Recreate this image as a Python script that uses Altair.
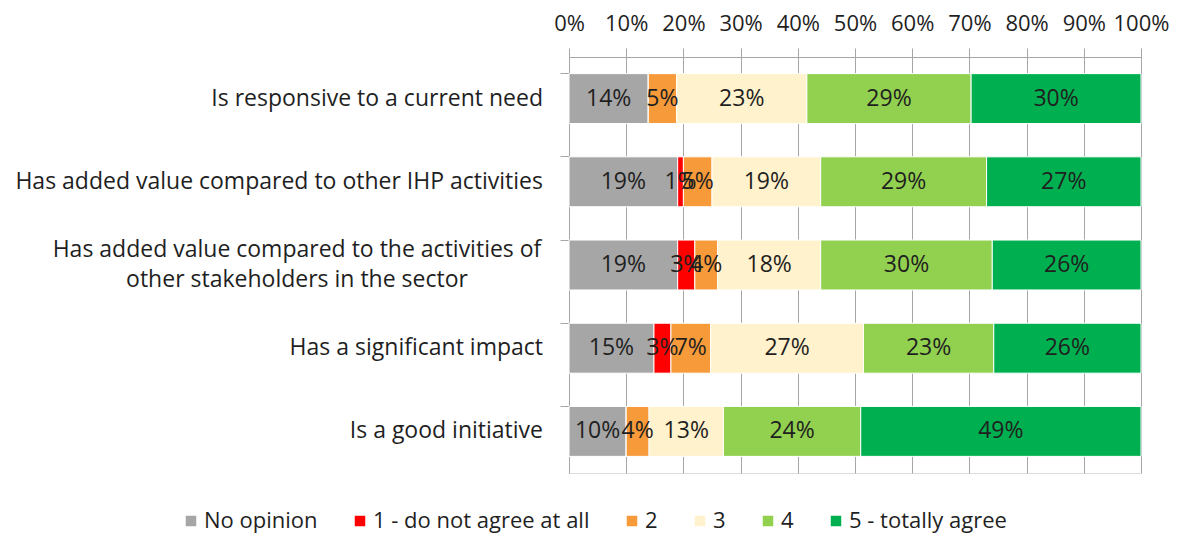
import altair as alt
import pandas as pd

categories = [
    "Is responsive to a current need",
    "Has added value compared to other IHP activities",
    "Has added value compared to the activities of other stakeholders in the sector",
    "Has a significant impact",
    "Is a good initiative",
]
cat_labels = [
    "Is responsive to a current need",
    "Has added value compared to other IHP activities",
    "Has added value compared to the activities of\nother stakeholders in the sector",
    "Has a significant impact",
    "Is a good initiative",
]
series = ["No opinion", "1 - do not agree at all", "2", "3", "4", "5 - totally agree"]
no_opinion = [14, 19, 19, 15, 10]
r1 = [0, 1, 3, 3, 0]
r2 = [5, 5, 4, 7, 4]
r3 = [23, 19, 18, 27, 13]
r4 = [29, 29, 30, 23, 24]
r5 = [30, 27, 26, 26, 49]
colors = ["#a6a6a6", "#ff0000", "#f79a3a", "#fff2cc", "#92d050", "#00b050"]
tick_values = [0, 0.1, 0.2, 0.3, 0.4, 0.5, 0.6, 0.7, 0.8, 0.9, 1.0]

FONT = "Open Sans"
FS = 23
TXT = "#1f1f1f"
GRID = "#a6a6a6"

rows = []
for vals, (si, s) in zip([no_opinion, r1, r2, r3, r4, r5], enumerate(series)):
    for ci, c in enumerate(categories):
        rows.append({"category": c, "series": s, "order": si, "value": vals[ci]})
df = pd.DataFrame(rows)

cats = pd.DataFrame({"category": categories, "label": cat_labels,
                     "multi": ["\n" in l for l in cat_labels]})

yenc = alt.Y("category:N", sort=categories,
             scale=alt.Scale(paddingInner=0.4, paddingOuter=0.2),
             axis=alt.Axis(labels=False, title=None, domainColor=GRID, tickColor=GRID,
                           tickSize=9, bandPosition=0, grid=False))

bars = alt.Chart(df).mark_bar(stroke="white", strokeWidth=1).encode(
    y=yenc,
    x=alt.X("value:Q", stack="normalize",
            scale=alt.Scale(domain=[0, 1]),
            axis=alt.Axis(orient="top", format=".0%", values=tick_values, title=None,
                          labelFontSize=22, labelFont=FONT, labelColor=TXT,
                          labelOverlap=False, labelFlush=False,
                          domainColor=GRID, tickColor=GRID, tickSize=9,
                          gridColor=GRID, labelPadding=13)),
    color=alt.Color("series:N", sort=series,
                    scale=alt.Scale(domain=series, range=colors),
                    legend=alt.Legend(orient="none", legendX=-389, legendY=453,
                                      direction="horizontal", title=None,
                                      symbolType="square", symbolSize=110,
                                      symbolStrokeWidth=0, labelLimit=400,
                                      labelFontSize=22, labelFont=FONT, labelColor=TXT,
                                      columnPadding=31, labelOffset=2, padding=0)),
    order=alt.Order("order:Q", sort="ascending"),
)

seg_labels = alt.Chart(df).transform_joinaggregate(
    total="sum(value)", groupby=["category"]
).transform_window(
    cum="sum(value)", groupby=["category"], sort=[alt.SortField("order")],
    frame=[None, 0]
).transform_calculate(
    mid="(datum.cum - datum.value / 2) / datum.total",
    txt="datum.value + '%'"
).transform_filter("datum.value > 0").mark_text(
    fontSize=FS, font=FONT, color=TXT, baseline="middle", align="center"
).encode(
    y=alt.Y("category:N", sort=categories),
    x=alt.X("mid:Q"),
    text="txt:N",
)

lab_single = alt.Chart(cats).transform_filter("!datum.multi").mark_text(
    align="right", baseline="middle", fontSize=FS, font=FONT, color=TXT
).encode(y=alt.Y("category:N", sort=categories), x=alt.value(-26), text="label:N")

lab_multi = alt.Chart(cats).transform_filter("datum.multi").mark_text(
    align="center", baseline="middle", fontSize=FS, font=FONT, color=TXT,
    lineBreak="\n", lineHeight=30, dy=-15
).encode(y=alt.Y("category:N", sort=categories), x=alt.value(-272), text="label:N")

chart = alt.layer(bars, seg_labels, lab_single, lab_multi).properties(
    width=572, height=416,
    autosize=alt.AutoSizeParams(type="none"),
    padding={"left": 561, "top": 49, "right": 33, "bottom": 61},
).configure_view(stroke=None).configure(background="white")

chart.save("out.html", embed_options={"renderer": "svg", "actions": False})
